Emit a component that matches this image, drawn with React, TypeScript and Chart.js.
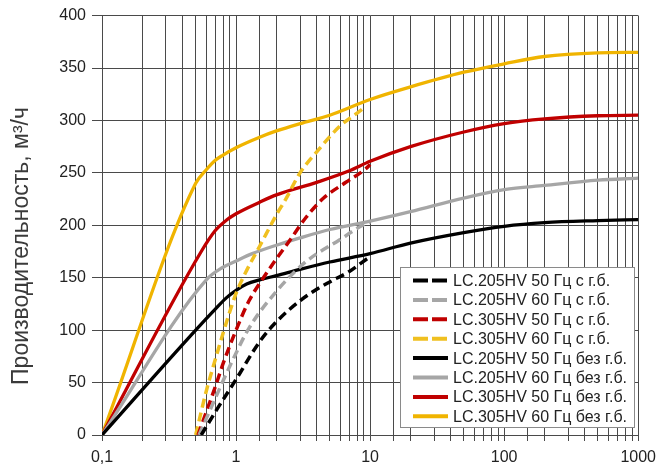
import React, { useEffect, useRef } from 'react';
import { Chart, registerables } from 'chart.js';

Chart.register(...registerables);

// ---- Data ----
const seriesLabels = [
  'LC.205HV 50 Гц с г.б.',
  'LC.205HV 60 Гц с г.б.',
  'LC.305HV 50 Гц с г.б.',
  'LC.305HV 60 Гц с г.б.',
  'LC.205HV 50 Гц без г.б.',
  'LC.205HV 60 Гц без г.б.',
  'LC.305HV 50 Гц без г.б.',
  'LC.305HV 60 Гц без г.б.',
];

const yAxisTitle = 'Производительность, м³/ч';
const xTickValues = [0.1, 1, 10, 100, 1000];
const xTickLabels = ['0,1', '1', '10', '100', '1000'];
const yTickValues = [0, 50, 100, 150, 200, 250, 300, 350, 400];

// с г.б. (dashed)
const lc205_50_gb_x = [0.55, 0.7, 1, 1.5, 2, 3, 4, 5, 7, 9, 10];
const lc205_50_gb_y = [0, 22, 53, 89, 108, 128, 139, 146, 156, 166, 170];

const lc205_60_gb_x = [0.53, 0.7, 0.94, 1.25, 2, 3.3, 5.9, 8.8, 10];
const lc205_60_gb_y = [0, 35, 71, 102, 137, 165, 186, 200, 203];

const lc305_50_gb_x = [0.52, 0.6, 0.7, 0.8, 1, 1.25, 1.66, 2, 2.5, 3.3, 4.5, 6.6, 9.3, 10];
const lc305_50_gb_y = [0, 22, 46, 68, 100, 128, 153, 168, 185, 207, 226, 241, 254, 258];

const lc305_60_gb_x = [0.5, 0.6, 0.7, 0.8, 0.9, 1, 1.2, 1.5, 2, 2.35, 3, 4, 6, 8, 9];
const lc305_60_gb_y = [0, 42, 72, 97, 118, 135, 157, 180, 210, 225, 250, 270, 295, 307, 312];

// без г.б. (solid)
const lc205_50_x = [0.1, 0.5, 0.7, 0.85, 1, 1.2, 1.5, 2, 3, 5, 10, 20, 50, 100, 200, 500, 1000];
const lc205_50_y = [0, 100, 120, 131, 138, 144, 148, 152, 158, 165, 173, 183, 193, 199, 202.5, 204.5, 205.5];

const lc205_60_x = [0.1, 0.6, 0.8, 1, 1.32, 2, 3, 5, 10, 20, 50, 100, 200, 500, 1000];
const lc205_60_y = [0, 148, 160, 166, 173, 181, 188, 196, 204, 213, 226, 234, 238, 243, 245];

const lc305_50_x = [0.1, 0.55, 0.7, 0.85, 1, 1.5, 2, 4, 7, 10, 20, 50, 100, 200, 500, 1000];
const lc305_50_y = [0, 175, 195, 205, 211, 222, 229, 241, 252, 261, 275, 289, 297, 301.5, 304.5, 305];

const lc305_60_x = [0.1, 0.5, 0.6, 0.7, 0.8, 1, 1.5, 2, 3, 5, 10, 20, 50, 100, 200, 500, 1000];
const lc305_60_y = [0, 240, 253, 262, 267, 274, 284, 290, 297, 305, 320, 332, 346, 354, 361, 364.5, 365];

const seriesX = [lc205_50_gb_x, lc205_60_gb_x, lc305_50_gb_x, lc305_60_gb_x, lc205_50_x, lc205_60_x, lc305_50_x, lc305_60_x];
const seriesY = [lc205_50_gb_y, lc205_60_gb_y, lc305_50_gb_y, lc305_60_gb_y, lc205_50_y, lc205_60_y, lc305_50_y, lc305_60_y];
const seriesColors = ['#000000', '#a6a6a6', '#c00000', '#f0c020', '#000000', '#a6a6a6', '#c00000', '#f0b400'];
const seriesDashed = [true, true, true, true, false, false, false, false];

const GRID = '#4a4a4a';
const FONT = 'Arial, "Liberation Sans", sans-serif';

const legendPlugin = {
  id: 'insideLegend',
  afterDraw(chart: any) {
    const ctx = chart.ctx;
    const left = 400, top = 267, right = 634, bottom = 427;
    ctx.save();
    ctx.fillStyle = '#ffffff';
    ctx.fillRect(left, top, right - left, bottom - top);
    ctx.strokeStyle = '#8a8a8a';
    ctx.lineWidth = 1;
    ctx.strokeRect(left + 0.5, top + 0.5, right - left, bottom - top);
    ctx.font = '16px ' + FONT;
    ctx.textBaseline = 'middle';
    ctx.textAlign = 'left';
    chart.data.datasets.forEach((ds: any, i: number) => {
      const y = 280.5 + i * 19.4;
      ctx.strokeStyle = ds.borderColor;
      ctx.lineWidth = 4;
      ctx.setLineDash(seriesDashed[i] ? [15, 4] : []);
      ctx.beginPath();
      ctx.moveTo(413, y);
      ctx.lineTo(448, y);
      ctx.stroke();
      ctx.setLineDash([]);
      ctx.fillStyle = '#222';
      ctx.fillText(ds.label, 453, y + 1);
    });
    ctx.restore();
  },
};

const titlePlugin = {
  id: 'yTitle',
  afterDraw(chart: any) {
    const ctx = chart.ctx;
    ctx.save();
    ctx.translate(28, 246);
    ctx.rotate(-Math.PI / 2);
    ctx.font = '23px ' + FONT;
    ctx.fillStyle = '#3a3a3a';
    ctx.textAlign = 'center';
    ctx.textBaseline = 'alphabetic';
    ctx.fillText(yAxisTitle, 0, 0);
    ctx.restore();
  },
};

export default function App() {
  const ref = useRef<HTMLCanvasElement | null>(null);

  useEffect(() => {
    if (!ref.current) return;
    const datasets = seriesLabels.map((label, i) => ({
      label,
      data: seriesX[i].map((x, j) => ({ x, y: seriesY[i][j] })),
      borderColor: seriesColors[i],
      backgroundColor: seriesColors[i],
      borderWidth: seriesDashed[i] ? 3.5 : 3.3,
      borderDash: seriesDashed[i] ? [9, 5] : [],
      pointRadius: 0,
      fill: false,
      cubicInterpolationMode: 'monotone' as const,
    }));

    const chart = new Chart(ref.current, {
      type: 'line',
      data: { datasets },
      options: {
        animation: false,
        responsive: false,
        maintainAspectRatio: false,
        layout: { padding: { left: 0, top: 12, right: 23, bottom: 0 } },
        plugins: {
          legend: { display: false },
          tooltip: { enabled: false },
          title: { display: false },
        },
        scales: {
          x: {
            type: 'logarithmic',
            min: 0.1,
            max: 1000,
            grid: { color: GRID, lineWidth: 1, tickLength: 6, tickColor: GRID, drawTicks: true },
            border: { color: GRID, width: 1 },
            ticks: {
              autoSkip: false,
              maxRotation: 0,
              minRotation: 0,
              padding: 7,
              color: '#222',
              font: { family: FONT, size: 16 },
              callback: (value: any) => {
                const v = Number(value);
                const i = xTickValues.findIndex((t) => Math.abs(t - v) < 1e-9 * Math.max(1, t));
                return i >= 0 ? xTickLabels[i] : '';
              },
            },
            afterFit: (scale: any) => {
              scale.height = 35;
            },
          },
          y: {
            type: 'linear',
            min: 0,
            max: 400,
            afterBuildTicks: (scale: any) => {
              scale.ticks = yTickValues.map((v) => ({ value: v }));
            },
            grid: { color: GRID, lineWidth: 1, tickLength: 10, tickColor: GRID },
            border: { color: GRID, width: 1 },
            ticks: {
              padding: 6,
              color: '#222',
              font: { family: FONT, size: 16 },
            },
            afterFit: (scale: any) => {
              scale.width = 102;
            },
          },
        },
      },
      plugins: [legendPlugin, titlePlugin],
    });
    return () => chart.destroy();
  }, []);

  return (
    <div style={{ position: 'fixed', left: 0, top: 0, width: 663, height: 470, background: '#fff' }}>
      <canvas ref={ref} width={663} height={470} style={{ width: 663, height: 470, display: 'block' }} />
    </div>
  );
}
